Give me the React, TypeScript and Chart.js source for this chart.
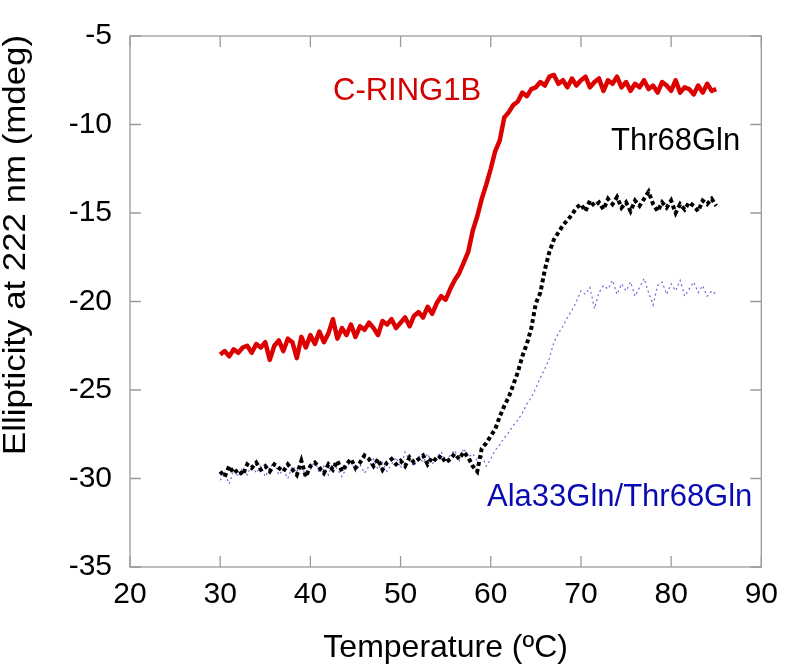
import { useEffect, useRef } from "react";
import { Chart, registerables } from "chart.js";

Chart.register(...registerables);

// Temperature (ºC)
const temperatures = [
  30, 30.5, 31, 31.5, 32, 32.5, 33, 33.5, 34, 34.5,
  35, 35.5, 36, 36.5, 37, 37.5, 38, 38.5, 39, 39.5,
  40, 40.5, 41, 41.5, 42, 42.5, 43, 43.5, 44, 44.5,
  45, 45.5, 46, 46.5, 47, 47.5, 48, 48.5, 49, 49.5,
  50, 50.5, 51, 51.5, 52, 52.5, 53, 53.5, 54, 54.5,
  55, 55.5, 56, 56.5, 57, 57.5, 58, 58.5, 59, 59.5,
  60, 60.5, 61, 61.5, 62, 62.5, 63, 63.5, 64, 64.5,
  65, 65.5, 66, 66.5, 67, 67.5, 68, 68.5, 69, 69.5,
  70, 70.5, 71, 71.5, 72, 72.5, 73, 73.5, 74, 74.5,
  75, 75.5, 76, 76.5, 77, 77.5, 78, 78.5, 79, 79.5,
  80, 80.5, 81, 81.5, 82, 82.5, 83, 83.5, 84, 84.5,
  85,
];

const cRing1B = [
  -23.0, -22.8, -23.1, -22.7, -22.9, -22.6, -22.5, -22.9, -22.4, -22.6,
  -22.3, -23.3, -22.5, -22.2, -22.8, -22.1, -22.3, -23.2, -22.0, -22.6,
  -21.9, -22.4, -21.7, -22.3, -21.8, -21.0, -22.1, -21.5, -21.9, -21.3,
  -22.0, -21.4, -21.6, -21.2, -21.5, -21.9, -21.1, -21.3, -21.0, -21.5,
  -21.2, -20.9, -21.4, -20.8, -20.6, -20.9, -20.3, -20.7, -20.1, -19.7,
  -19.9, -19.3, -18.8, -18.4, -17.8, -17.2, -16.0, -15.2, -14.2, -13.4,
  -12.5, -11.5, -10.9, -9.6, -9.3, -8.9, -8.7, -8.2, -8.4, -8.0,
  -7.9, -7.6, -7.8, -7.3, -7.2, -7.7, -7.5, -7.9, -7.4, -7.8,
  -7.5, -7.3, -7.9, -7.6, -7.4, -8.1, -7.5, -7.7, -7.3, -7.9,
  -7.6, -8.1, -7.7, -7.9, -7.5, -8.0, -7.8, -8.2, -7.6, -7.8,
  -8.1, -7.5, -8.2, -7.9, -8.0, -8.3, -7.8, -8.2, -7.7, -8.1,
  -8.0,
];

const thr68Gln = [
  -29.6, -29.9, -29.3, -29.7, -29.5, -29.8, -29.2, -29.4, -29.1, -29.5,
  -29.3, -29.6, -29.2, -29.4, -29.6, -29.2, -29.5, -29.8, -29.0, -29.9,
  -29.3, -29.1, -29.4, -29.7, -29.2, -29.5, -29.0, -29.6, -29.2, -28.9,
  -29.4, -29.1, -28.7, -28.9, -29.3, -28.9, -29.5, -29.1, -28.9, -29.2,
  -29.0, -29.3, -28.8, -29.1, -28.9, -28.7, -29.2, -28.8, -29.0, -28.7,
  -29.1, -28.9, -28.6, -28.9, -28.5, -28.8, -29.3, -29.6, -28.3, -28.0,
  -27.6, -27.2, -26.5, -25.9, -25.4, -24.7, -24.0, -23.1, -22.4, -21.5,
  -20.1, -19.5, -18.2, -17.2, -16.5, -16.1, -15.7, -15.4, -15.1, -14.7,
  -14.5, -14.9, -14.3, -14.6, -14.4, -14.8, -14.2, -14.5, -14.1, -14.7,
  -14.4, -14.9, -14.3, -14.6, -14.2, -13.8, -14.5, -14.9, -14.4, -14.7,
  -14.3, -15.0, -14.5, -14.8, -14.4, -14.6, -14.9, -14.3, -14.5, -14.2,
  -14.6,
];

const ala33GlnThr68Gln = [
  -30.1, -29.7, -30.3, -29.5, -29.9, -29.4, -29.8, -29.2, -29.7, -29.3,
  -29.9, -29.4, -29.1, -29.8, -29.5, -30.0, -29.3, -29.6, -29.2, -29.9,
  -29.5, -29.0, -29.7, -29.3, -29.8, -29.1, -29.5, -29.9, -29.4, -29.0,
  -29.6, -29.2, -29.7, -29.3, -28.9, -29.5, -29.1, -29.6, -29.2, -28.8,
  -29.4, -28.5, -29.0, -29.3, -28.7, -29.1, -28.6, -29.2, -28.8, -28.5,
  -29.0, -28.7, -28.4, -29.0, -28.3, -28.8, -28.6, -29.0, -28.7, -29.3,
  -28.9, -28.4, -28.1, -27.7, -27.4, -27.0, -26.7, -26.3, -25.8, -25.4,
  -24.9, -24.3, -23.8, -23.2, -22.3, -21.8, -21.4, -20.9, -20.5, -20.0,
  -19.4, -19.6, -19.2, -20.4, -19.5, -19.1, -19.3, -18.8, -19.6, -19.0,
  -19.4, -18.9, -19.7, -19.2, -18.7, -19.5, -20.2, -19.1, -18.9, -19.6,
  -19.0, -19.4, -18.8, -19.7, -19.3, -18.9, -19.5, -19.1, -19.7, -19.4,
  -19.6,
];

const xTicks = [20, 30, 40, 50, 60, 70, 80, 90];
const yTicks = [-35, -30, -25, -20, -15, -10, -5];

const seriesNames = ["C-RING1B", "Thr68Gln", "Ala33Gln/Thr68Gln"];
const xTitle = "Temperature (ºC)";
const yTitle = "Ellipticity at 222 nm (mdeg)";

const FONT = "'Liberation Sans', Arial, Helvetica, sans-serif";

const decorPlugin = {
  id: "decor",
  afterDraw(chart: any) {
    const { ctx, chartArea, scales } = chart;
    const { left, right, top, bottom } = chartArea;
    ctx.save();
    // frame
    ctx.strokeStyle = "#9a9a9a";
    ctx.lineWidth = 1.3;
    ctx.strokeRect(left, top, right - left, bottom - top);
    // inward ticks on all four sides
    const tl = 11;
    ctx.beginPath();
    xTicks.forEach((v) => {
      const px = scales.x.getPixelForValue(v);
      ctx.moveTo(px, bottom);
      ctx.lineTo(px, bottom - tl);
      ctx.moveTo(px, top);
      ctx.lineTo(px, top + tl);
    });
    yTicks.forEach((v) => {
      const py = scales.y.getPixelForValue(v);
      ctx.moveTo(left, py);
      ctx.lineTo(left + tl, py);
      ctx.moveTo(right, py);
      ctx.lineTo(right - tl, py);
    });
    ctx.stroke();

    // axis titles
    ctx.fillStyle = "#000";
    ctx.font = `32px ${FONT}`;
    ctx.textAlign = "center";
    ctx.textBaseline = "alphabetic";
    ctx.fillText(xTitle, (left + right) / 2, 657);

    ctx.save();
    ctx.translate(25, 245);
    ctx.rotate(-Math.PI / 2);
    ctx.font = `31px ${FONT}`;
    const w = ctx.measureText(yTitle).width;
    const sx = 420 / w;
    ctx.scale(sx, 1);
    ctx.fillText(yTitle, 0, 0);
    ctx.restore();

    // series annotations
    ctx.textAlign = "left";
    ctx.font = `31px ${FONT}`;
    ctx.fillStyle = "#d40000";
    ctx.fillText(seriesNames[0], 333, 100);
    ctx.fillStyle = "#000";
    ctx.fillText(seriesNames[1], 611, 150);
    ctx.fillStyle = "#0a0ab4";
    ctx.fillText(seriesNames[2], 487, 506);
    ctx.restore();
  },
};

export default function App() {
  const ref = useRef<HTMLCanvasElement | null>(null);

  useEffect(() => {
    document.body.style.margin = "0";
    const canvas = ref.current;
    if (!canvas) return;
    const toPts = (arr: number[]) => temperatures.map((t, i) => ({ x: t, y: arr[i] }));
    const chart = new Chart(canvas, {
      type: "line",
      data: {
        datasets: [
          {
            label: seriesNames[0],
            data: toPts(cRing1B),
            borderColor: "#dc0000",
            borderWidth: 4.5,
            pointRadius: 0,
            tension: 0,
            borderJoinStyle: "round",
          },
          {
            label: seriesNames[1],
            data: toPts(thr68Gln),
            borderColor: "#000000",
            borderWidth: 4,
            borderDash: [4, 3],
            pointRadius: 0,
            tension: 0,
          },
          {
            label: seriesNames[2],
            data: toPts(ala33GlnThr68Gln),
            borderColor: "#6a6ad8",
            borderWidth: 1.2,
            borderDash: [2, 3],
            pointRadius: 0,
            tension: 0,
          },
        ],
      },
      options: {
        responsive: false,
        animation: false,
        devicePixelRatio: 1,
        layout: { padding: { top: 16, right: 18, left: 0, bottom: 0 } },
        plugins: { legend: { display: false }, tooltip: { enabled: false } },
        scales: {
          x: {
            type: "linear",
            min: 20,
            max: 90,
            grid: { display: false, drawTicks: false },
            border: { display: false },
            afterBuildTicks: (s: any) => {
              s.ticks = xTicks.map((v) => ({ value: v }));
            },
            afterFit: (s: any) => {
              s.height = 98;
            },
            ticks: {
              padding: 10,
              color: "#000",
              font: { family: FONT, size: 30 },
              maxRotation: 0,
              autoSkip: false,
            },
          },
          y: {
            type: "linear",
            min: -35,
            max: -5,
            grid: { display: false, drawTicks: false },
            border: { display: false },
            afterBuildTicks: (s: any) => {
              s.ticks = yTicks.map((v) => ({ value: v }));
            },
            afterFit: (s: any) => {
              s.width = 130;
            },
            ticks: {
              padding: 18,
              color: "#000",
              font: { family: FONT, size: 30 },
              autoSkip: false,
            },
          },
        },
      },
      plugins: [decorPlugin],
    });
    return () => chart.destroy();
  }, []);

  return (
    <div style={{ width: 788, height: 665 }}>
      <canvas ref={ref} width={788} height={665} style={{ display: "block" }} />
    </div>
  );
}
